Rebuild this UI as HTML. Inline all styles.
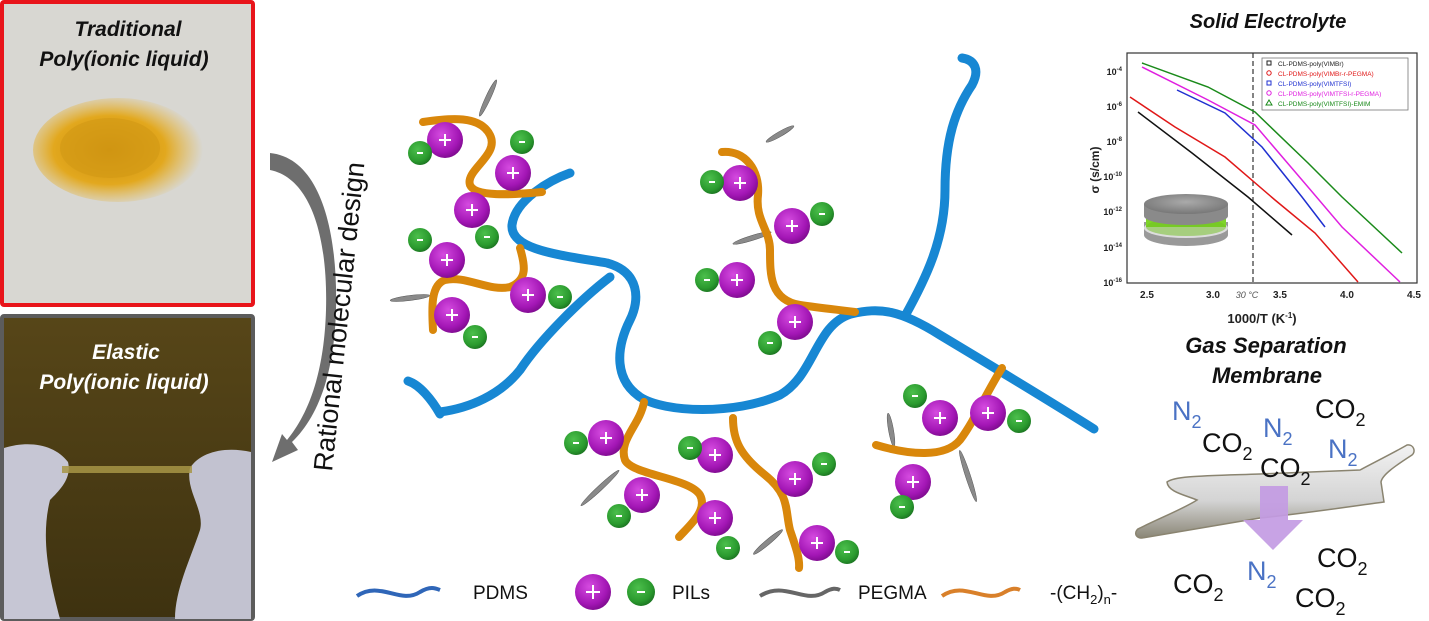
<!DOCTYPE html>
<html><head><meta charset="utf-8"><style>
html,body{margin:0;padding:0;background:#fff;}
svg{display:block;font-family:"Liberation Sans",sans-serif;}
</style></head><body>
<svg width="1429" height="621" viewBox="0 0 1429 621" xmlns="http://www.w3.org/2000/svg">
<defs>
<radialGradient id="pu" cx="0.4" cy="0.35" r="0.7"><stop offset="0" stop-color="#d54be0"/><stop offset="0.7" stop-color="#a316b5"/><stop offset="1" stop-color="#7a0a8a"/></radialGradient>
<radialGradient id="gr" cx="0.4" cy="0.35" r="0.7"><stop offset="0" stop-color="#4cbf4c"/><stop offset="0.7" stop-color="#2a9a2e"/><stop offset="1" stop-color="#1a7020"/></radialGradient>
<radialGradient id="pow" cx="0.45" cy="0.5" r="0.55"><stop offset="0" stop-color="#c98a0c"/><stop offset="0.6" stop-color="#e2a81e"/><stop offset="1" stop-color="#e8b63a" stop-opacity="0"/></radialGradient>
<linearGradient id="dark" x1="0" y1="0" x2="0" y2="1"><stop offset="0" stop-color="#574618"/><stop offset="1" stop-color="#3e3210"/></linearGradient>
<linearGradient id="mem" x1="0" y1="0" x2="0" y2="1"><stop offset="0" stop-color="#f2f2f2"/><stop offset="0.6" stop-color="#d4d4d4"/><stop offset="1" stop-color="#8a8676"/></linearGradient>
<radialGradient id="disk" cx="0.5" cy="0.4" r="0.6"><stop offset="0" stop-color="#aaa"/><stop offset="1" stop-color="#777"/></radialGradient>
</defs>

<!-- top photo -->
<rect x="2" y="2" width="251" height="303" fill="#d8d7d2" stroke="#e8141a" stroke-width="4" rx="2"/>
<ellipse cx="118" cy="150" rx="85" ry="52" fill="url(#pow)"/>
<ellipse cx="110" cy="148" rx="50" ry="30" fill="#d39a16" opacity="0.7"/>
<text x="128" y="36" text-anchor="middle" font-size="21" font-weight="bold" font-style="italic" fill="#111">Traditional</text>
<text x="124" y="66" text-anchor="middle" font-size="21" font-weight="bold" font-style="italic" fill="#111">Poly(ionic liquid)</text>

<!-- bottom photo -->
<rect x="2" y="316" width="251" height="303" fill="url(#dark)" stroke="#5c5c5c" stroke-width="4" rx="2"/>
<path d="M4 448 C30 440,55 445,68 462 C72 478,60 490,50 500 C40 540,50 580,60 619 L4 619 Z" fill="#c6c6d4"/>
<path d="M251 452 C225 446,200 452,190 468 C185 490,205 510,200 530 C190 560,175 590,175 619 L251 619 Z" fill="#c2c2d0"/>
<rect x="62" y="466" width="130" height="7" fill="#a79545" opacity="0.85"/>
<text x="126" y="359" text-anchor="middle" font-size="21" font-weight="bold" font-style="italic" fill="#fff">Elastic</text>
<text x="124" y="389" text-anchor="middle" font-size="21" font-weight="bold" font-style="italic" fill="#fff">Poly(ionic liquid)</text>

<!-- curved arrow -->
<path d="M270 153 C320 158,338 230,336 310 C334 380,315 420,292 442 L298 450 L272 462 L282 434 L287 440 C305 418,324 380,326 310 C328 235,310 178,270 170 Z" fill="#6e6e6e"/>
<text transform="translate(332,472) rotate(-84)" font-size="27" fill="#111">Rational molecular design</text>

<!-- PEGMA needles -->
<g fill="#8a8a8a" stroke="#555" stroke-width="0.5">
<ellipse cx="488" cy="98" rx="20" ry="2.5" transform="rotate(-65 488 98)"/>
<ellipse cx="410" cy="298" rx="20" ry="2.5" transform="rotate(-7 410 298)"/>
<ellipse cx="752" cy="238" rx="20" ry="2.5" transform="rotate(-17 752 238)"/>
<ellipse cx="780" cy="134" rx="16" ry="2.5" transform="rotate(-30 780 134)"/>
<ellipse cx="600" cy="488" rx="26" ry="2.5" transform="rotate(-43 600 488)"/>
<ellipse cx="768" cy="542" rx="19" ry="2.5" transform="rotate(-40 768 542)"/>
<ellipse cx="891" cy="430" rx="17" ry="2.5" transform="rotate(80 891 430)"/>
<ellipse cx="968" cy="476" rx="27" ry="2.5" transform="rotate(72 968 476)"/>
</g>

<!-- blue chains -->
<g fill="none" stroke="#1787d3" stroke-width="9" stroke-linecap="round">
<path d="M570 173 C550 180,515 200,512 225 C510 250,560 255,607 263 C640 272,640 300,630 320 C615 350,615 380,640 397 C665 413,735 415,780 395 C815 375,815 325,851 314 C880 307,900 310,940 335 C990 365,1040 395,1094 429"/>
<path d="M610 277 C580 300,540 340,520 370 C500 395,470 408,440 412"/>
<path d="M440 414 C432 400,420 385,408 381"/>
<path d="M905 316 C925 280,945 240,945 190 C945 140,955 110,972 85 C980 70,975 60,962 58"/>
</g>

<!-- orange chains -->
<g fill="none" stroke="#d9870b" stroke-width="8" stroke-linecap="round">
<path d="M423 122 C450 118,480 115,490 135 C500 155,465 170,470 185 C475 197,510 195,542 192"/>
<path d="M520 248 C525 265,528 280,510 287 C490 292,465 275,445 280 C430 285,432 310,433 330"/>
<path d="M722 152 C745 150,760 170,758 195 C755 220,770 230,770 250 C770 275,770 300,800 305 C820 308,840 310,855 312"/>
<path d="M644 402 C640 425,618 440,625 460 C632 475,690 478,700 495 C708 510,690 525,679 537"/>
<path d="M733 418 C733 440,740 455,765 475 C790 495,785 510,790 530 C795 545,800 558,799 568"/>
<path d="M1002 368 C985 395,975 420,960 440 C945 458,910 455,876 445"/>
</g>

<!-- purple spheres -->
<g fill="url(#pu)">
<circle cx="445" cy="140" r="18"/><circle cx="513" cy="173" r="18"/><circle cx="472" cy="210" r="18"/>
<circle cx="447" cy="260" r="18"/><circle cx="528" cy="295" r="18"/><circle cx="452" cy="315" r="18"/>
<circle cx="740" cy="183" r="18"/><circle cx="792" cy="226" r="18"/><circle cx="737" cy="280" r="18"/>
<circle cx="795" cy="322" r="18"/><circle cx="606" cy="438" r="18"/><circle cx="715" cy="455" r="18"/>
<circle cx="642" cy="495" r="18"/><circle cx="715" cy="518" r="18"/><circle cx="795" cy="479" r="18"/>
<circle cx="817" cy="543" r="18"/><circle cx="940" cy="418" r="18"/><circle cx="988" cy="413" r="18"/>
<circle cx="913" cy="482" r="18"/>
</g>
<g stroke="#fff" stroke-width="2">
<path d="M439 140h12M445 134v12M507 173h12M513 167v12M466 210h12M472 204v12M441 260h12M447 254v12M522 295h12M528 289v12M446 315h12M452 309v12M734 183h12M740 177v12M786 226h12M792 220v12M731 280h12M737 274v12M789 322h12M795 316v12M600 438h12M606 432v12M709 455h12M715 449v12M636 495h12M642 489v12M709 518h12M715 512v12M789 479h12M795 473v12M811 543h12M817 537v12M934 418h12M940 412v12M982 413h12M988 407v12M907 482h12M913 476v12"/>
</g>
<!-- green spheres -->
<g fill="url(#gr)">
<circle cx="420" cy="153" r="12"/><circle cx="522" cy="142" r="12"/><circle cx="487" cy="237" r="12"/>
<circle cx="420" cy="240" r="12"/><circle cx="560" cy="297" r="12"/><circle cx="475" cy="337" r="12"/>
<circle cx="712" cy="182" r="12"/><circle cx="822" cy="214" r="12"/><circle cx="707" cy="280" r="12"/>
<circle cx="770" cy="343" r="12"/><circle cx="576" cy="443" r="12"/><circle cx="690" cy="448" r="12"/>
<circle cx="619" cy="516" r="12"/><circle cx="728" cy="548" r="12"/><circle cx="824" cy="464" r="12"/>
<circle cx="847" cy="552" r="12"/><circle cx="915" cy="396" r="12"/><circle cx="1019" cy="421" r="12"/>
<circle cx="902" cy="507" r="12"/>
</g>
<g stroke="#fff" stroke-width="2">
<path d="M417 153h6M519 142h6M484 237h6M417 240h6M557 297h6M472 337h6M709 182h6M819 214h6M704 280h6M767 343h6M573 443h6M687 448h6M616 516h6M725 548h6M821 464h6M844 552h6M912 396h6M1016 421h6M899 507h6"/>
</g>

<!-- legend -->
<path d="M357 596 C380 580,400 605,420 592 C430 586,435 588,440 590" fill="none" stroke="#2f66b8" stroke-width="4"/>
<text x="473" y="599" font-size="19" fill="#111">PDMS</text>
<circle cx="593" cy="592" r="18" fill="url(#pu)"/><path d="M586 592h14M593 585v14" stroke="#fff" stroke-width="2"/>
<circle cx="641" cy="592" r="14" fill="url(#gr)"/><path d="M637 592h8" stroke="#fff" stroke-width="2"/>
<text x="672" y="599" font-size="19" fill="#111">PILs</text>
<path d="M760 596 C785 580,805 605,825 592 C832 588,836 588,840 590" fill="none" stroke="#666" stroke-width="4"/>
<text x="858" y="599" font-size="19" fill="#111">PEGMA</text>
<path d="M942 596 C965 580,985 605,1005 592 C1012 588,1016 588,1020 590" fill="none" stroke="#d9802a" stroke-width="4"/>
<text x="1050" y="599" font-size="19" fill="#111">-(CH<tspan font-size="13" dy="5">2</tspan><tspan dy="-5">)</tspan><tspan font-size="13" dy="5">n</tspan><tspan dy="-5">-</tspan></text>

<!-- plot -->
<text x="1268" y="28" text-anchor="middle" font-size="20" font-weight="bold" font-style="italic" fill="#111">Solid Electrolyte</text>
<rect x="1127" y="53" width="290" height="230" fill="#fff" stroke="#333" stroke-width="1.2"/>
<g font-size="9" font-weight="bold" fill="#222" text-anchor="end">
<text x="1122" y="75">10<tspan font-size="6" dy="-4">-4</tspan></text>
<text x="1122" y="110">10<tspan font-size="6" dy="-4">-6</tspan></text>
<text x="1122" y="145">10<tspan font-size="6" dy="-4">-8</tspan></text>
<text x="1122" y="180">10<tspan font-size="6" dy="-4">-10</tspan></text>
<text x="1122" y="215">10<tspan font-size="6" dy="-4">-12</tspan></text>
<text x="1122" y="251">10<tspan font-size="6" dy="-4">-14</tspan></text>
<text x="1122" y="286">10<tspan font-size="6" dy="-4">-16</tspan></text>
</g>
<g font-size="10" font-weight="bold" fill="#222" text-anchor="middle">
<text x="1147" y="298">2.5</text><text x="1213" y="298">3.0</text><text x="1280" y="298">3.5</text><text x="1347" y="298">4.0</text><text x="1414" y="298">4.5</text>
</g>
<text x="1247" y="298" text-anchor="middle" font-size="9" font-style="italic" fill="#555">30 °C</text>
<text x="1262" y="323" text-anchor="middle" font-size="13" font-weight="bold" fill="#222">1000/T (K<tspan font-size="8" dy="-5">-1</tspan><tspan dy="5">)</tspan></text>
<text transform="translate(1099,170) rotate(-90)" text-anchor="middle" font-size="12" font-weight="bold" fill="#222">σ (s/cm)</text>
<line x1="1253" y1="53" x2="1253" y2="283" stroke="#333" stroke-dasharray="5,3" stroke-width="1.2"/>
<g fill="none" stroke-width="1.5">
<polyline stroke="#1a8a1a" points="1142,63 1208,87 1255,112 1308,163 1342,197 1402,253"/>
<polyline stroke="#e020e0" points="1142,67 1208,100 1255,125 1308,187 1342,227 1400,282"/>
<polyline stroke="#2030d0" points="1177,90 1225,113 1262,147 1302,197 1325,227"/>
<polyline stroke="#e01818" points="1130,97 1175,127 1225,157 1275,200 1315,233 1358,282"/>
<polyline stroke="#111" points="1138,112 1192,153 1248,197 1292,235"/>
</g>
<rect x="1262" y="58" width="146" height="52" fill="#fff" stroke="#777" stroke-width="0.8"/>
<g font-size="6.5">
<text x="1278" y="66" fill="#222">CL-PDMS-poly(VIMBr)</text>
<text x="1278" y="76" fill="#e01818">CL-PDMS-poly(VIMBr-r-PEGMA)</text>
<text x="1278" y="86" fill="#2030d0">CL-PDMS-poly(VIMTFSI)</text>
<text x="1278" y="96" fill="#e020e0">CL-PDMS-poly(VIMTFSI-r-PEGMA)</text>
<text x="1278" y="106" fill="#1a8a1a">CL-PDMS-poly(VIMTFSI)-EMIM</text>
</g>
<g fill="none" stroke-width="1">
<rect x="1267" y="61" width="4" height="4" stroke="#222"/>
<circle cx="1269" cy="73" r="2.2" stroke="#e01818"/>
<rect x="1267" y="81" width="4" height="4" stroke="#2030d0"/>
<circle cx="1269" cy="93" r="2.2" stroke="#e020e0"/>
<path d="M1266 105 L1269 100 L1272 105 Z" stroke="#1a8a1a"/>
</g>
<!-- disk inset -->
<ellipse cx="1186" cy="235" rx="42" ry="11" fill="#999"/>
<rect x="1144" y="222" width="84" height="13" fill="#9a9a9a"/>
<ellipse cx="1186" cy="228" rx="42" ry="10" fill="#ddd"/>
<rect x="1146" y="214" width="80" height="13" fill="#7fd42a"/>
<ellipse cx="1186" cy="227" rx="40" ry="9" fill="#6fc020" opacity="0.5"/>
<rect x="1144" y="204" width="84" height="12" fill="#8a8a8a"/>
<ellipse cx="1186" cy="216" rx="42" ry="9" fill="#8a8a8a"/>
<ellipse cx="1186" cy="204" rx="42" ry="10" fill="url(#disk)"/>

<!-- gas separation -->
<text x="1266" y="353" text-anchor="middle" font-size="22" font-weight="bold" font-style="italic" fill="#111">Gas Separation</text>
<text x="1267" y="383" text-anchor="middle" font-size="22" font-weight="bold" font-style="italic" fill="#111">Membrane</text>
<path d="M1167 482 C1175 476,1200 476,1260 474 L1360 470 C1375 462,1395 452,1407 445 C1414 444,1416 452,1412 455 C1395 466,1382 475,1381 482 L1384 502 C1340 508,1300 514,1260 518 L1142 538 C1134 538,1134 530,1140 528 C1160 518,1185 508,1197 500 C1185 495,1168 492,1167 482 Z" fill="url(#mem)" stroke="#8a8470" stroke-width="1.5"/>
<path d="M1260 486 h28 v34 h15 l-30 30 l-30 -30 h17 Z" fill="#c39be3" opacity="0.92"/>
<g font-size="27" fill="#111">
<text x="1172" y="420" fill="#4a72c4">N<tspan font-size="18" dy="8">2</tspan></text>
<text x="1315" y="418">CO<tspan font-size="18" dy="8">2</tspan></text>
<text x="1202" y="452">CO<tspan font-size="18" dy="8">2</tspan></text>
<text x="1263" y="437" fill="#4a72c4">N<tspan font-size="18" dy="8">2</tspan></text>
<text x="1328" y="458" fill="#4a72c4">N<tspan font-size="18" dy="8">2</tspan></text>
<text x="1260" y="477">CO<tspan font-size="18" dy="8">2</tspan></text>
<text x="1317" y="567">CO<tspan font-size="18" dy="8">2</tspan></text>
<text x="1247" y="580" fill="#4a72c4">N<tspan font-size="18" dy="8">2</tspan></text>
<text x="1173" y="593">CO<tspan font-size="18" dy="8">2</tspan></text>
<text x="1295" y="607">CO<tspan font-size="18" dy="8">2</tspan></text>
</g>
</svg>
</body></html>
